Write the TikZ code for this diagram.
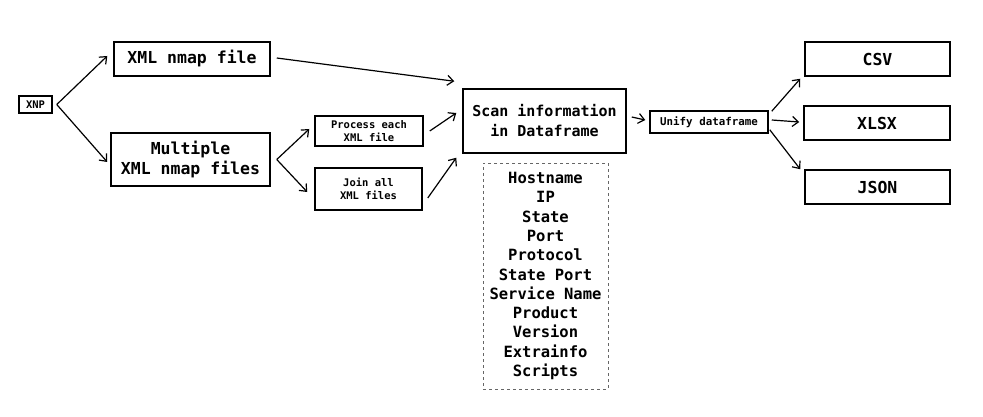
\documentclass[tikz,border=0pt]{standalone}
\usepackage{fontspec}
\setmonofont{DejaVu Sans Mono}
\usetikzlibrary{arrows.meta}
\tikzset{
  box/.style={draw, line width=1.5pt, inner sep=0pt, align=center, font=\ttfamily\bfseries},
  conn/.style={line width=1.2pt, -{Straight Barb[length=6pt,width=10pt,line width=1.2pt]}},
}
\begin{document}
\begin{tikzpicture}[x=1pt,y=-1pt]
\useasboundingbox (0,0) rectangle (983,417);
\node[box, minimum width=33pt, minimum height=17pt, font=\ttfamily\bfseries\fontsize{10.5}{12}\selectfont] (xnp) at (35.5,104.5) {XNP};
\node[box, minimum width=156pt, minimum height=34pt, font=\ttfamily\bfseries\fontsize{16.5}{20}\selectfont] (single) at (192,59) {XML nmap file};
\node[box, minimum width=159pt, minimum height=53pt, font=\ttfamily\bfseries\fontsize{16.5}{20}\selectfont] (multi) at (190.5,159.5) {Multiple\\XML nmap files};
\node[box, minimum width=108pt, minimum height=30pt, font=\ttfamily\bfseries\fontsize{10.5}{12.5}\selectfont] (proc) at (369,131) {Process each\\XML file};
\node[box, minimum width=107pt, minimum height=42pt, font=\ttfamily\bfseries\fontsize{10.5}{12.5}\selectfont] (join) at (368.5,189) {Join all\\XML files};
\node[box, minimum width=163pt, minimum height=64pt, font=\ttfamily\bfseries\fontsize{15}{20}\selectfont] (scan) at (544.5,121) {Scan information\\in Dataframe};
\node[draw=black!60, dashed, line width=0.8pt, inner sep=0pt, align=center, minimum width=125pt, minimum height=226pt, font=\ttfamily\bfseries\fontsize{15.5}{19.3}\selectfont] (list) at (545.5,276) {Hostname\\IP\\State\\Port\\Protocol\\State Port\\Service Name\\Product\\Version\\Extrainfo\\Scripts};
\node[box, minimum width=118pt, minimum height=22pt, font=\ttfamily\bfseries\fontsize{10.8}{12}\selectfont] (unify) at (709,122) {Unify dataframe};
\node[box, minimum width=145pt, minimum height=34pt, font=\ttfamily\bfseries\fontsize{16.5}{20}\selectfont] (csv) at (877.5,59) {CSV};
\node[box, minimum width=146pt, minimum height=34pt, font=\ttfamily\bfseries\fontsize{16.5}{20}\selectfont] (xlsx) at (877,123) {XLSX};
\node[box, minimum width=145pt, minimum height=34pt, font=\ttfamily\bfseries\fontsize{16.5}{20}\selectfont] (json) at (877.5,187) {JSON};
\draw[conn] ([xshift=4pt]xnp.east) -- ([xshift=-6pt,yshift=3pt]single.west);
\draw[conn] ([xshift=4pt]xnp.east) -- ([xshift=-3pt,yshift=-2.5pt]multi.west);
\draw[conn] ([xshift=6pt,yshift=1pt]single.east) -- ([xshift=-8pt,yshift=7pt]scan.north west);
\draw[conn] ([xshift=6pt]multi.east) -- ([xshift=-5pt,yshift=2pt]proc.west);
\draw[conn] ([xshift=6pt]multi.east) -- ([xshift=-7pt,yshift=-3pt]join.west);
\draw[conn] ([xshift=6pt]proc.east) -- ([xshift=-6pt,yshift=8pt]scan.west);
\draw[conn] ([xshift=5pt,yshift=-9pt]join.east) -- ([xshift=-6pt,yshift=-4pt]scan.south west);
\draw[conn] ([xshift=5pt,yshift=4pt]scan.east) -- ([xshift=-4pt,yshift=2pt]unify.west);
\draw[conn] ([xshift=3pt,yshift=-1pt]unify.north east) -- ([xshift=-4pt,yshift=-2pt]csv.south west);
\draw[conn] ([xshift=3pt,yshift=2pt]unify.east) -- ([xshift=-4pt,yshift=1pt]xlsx.west);
\draw[conn] ([xshift=1pt,yshift=4pt]unify.south east) -- ([xshift=-4pt,yshift=0pt]json.north west);
\end{tikzpicture}
\end{document}
